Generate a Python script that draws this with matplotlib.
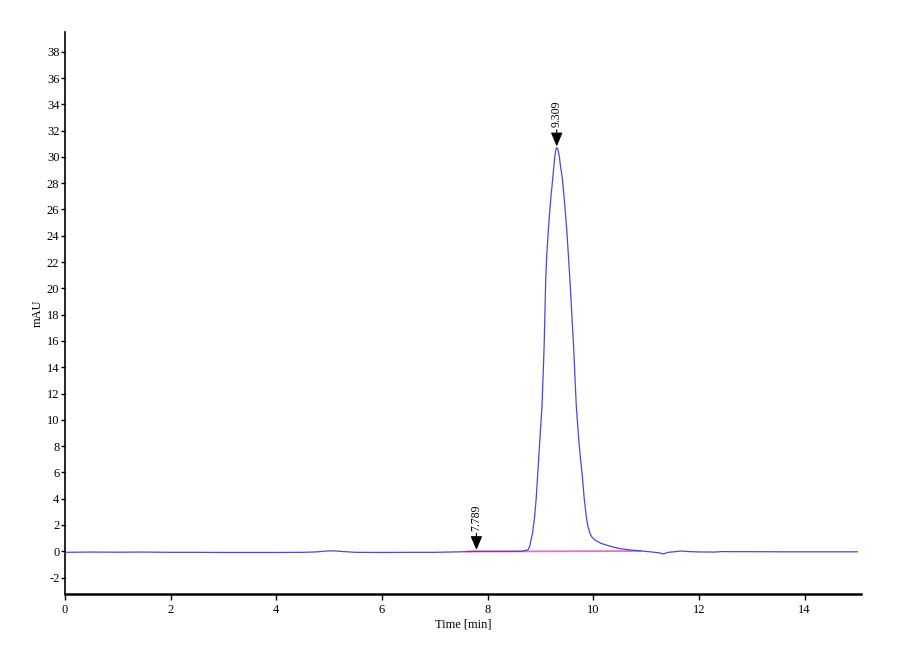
import numpy as np
import matplotlib
matplotlib.use('Agg')
import matplotlib.pyplot as plt

plt.rcParams['font.family'] = ['Liberation Serif', 'DejaVu Serif']
plt.rcParams['axes.unicode_minus'] = False

# chromatogram trace (min, mAU)
time_min = [0.0, 0.5, 1.0, 1.5, 2.0, 2.5, 3.0, 3.5, 4.0, 4.5, 4.75, 4.95, 5.1, 5.3,
            5.5, 6.0, 6.5, 7.0, 7.5, 7.8, 8.0, 8.4, 8.65, 8.74, 8.77, 8.80, 8.82,
            8.85, 8.89, 8.92, 8.95, 8.99, 9.03, 9.05, 9.07, 9.085, 9.10, 9.12,
            9.15, 9.17, 9.19, 9.21, 9.23, 9.25, 9.27, 9.29, 9.309, 9.33, 9.36,
            9.38, 9.40, 9.42, 9.44, 9.46, 9.48, 9.50, 9.53, 9.56, 9.595, 9.63,
            9.655, 9.68, 9.73, 9.76, 9.79, 9.83, 9.87, 9.90, 9.94, 9.98, 10.04,
            10.15, 10.26, 10.40, 10.51, 10.7, 10.9, 11.1, 11.25, 11.33, 11.42,
            11.55, 11.65, 11.8, 12.0, 12.3, 12.45, 12.6, 13.0, 13.5, 14.0, 14.5,
            15.0]
signal_mau = [-0.08, -0.06, -0.07, -0.06, -0.08, -0.08, -0.09, -0.09, -0.09, -0.08,
              -0.05, 0.02, 0.03, -0.03, -0.08, -0.09, -0.08, -0.08, -0.04, 0.0,
              -0.01, -0.01, 0.0, 0.08, 0.15, 0.4, 0.8, 1.35, 2.6, 4.0, 5.9, 8.5,
              11.0, 13.2, 15.5, 18.0, 20.6, 22.5, 24.4, 25.5, 26.5, 27.4, 28.2,
              29.1, 29.9, 30.5, 30.7, 30.6, 30.0, 29.3, 28.8, 28.2, 27.3, 26.4,
              25.4, 24.4, 22.5, 20.6, 18.0, 15.5, 13.2, 11.0, 8.3, 7.0, 5.9, 4.0,
              2.6, 1.9, 1.35, 1.05, 0.84, 0.6, 0.46, 0.3, 0.2, 0.1, 0.03, -0.05,
              -0.12, -0.2, -0.08, -0.03, 0.02, -0.02, -0.05, -0.06, -0.02, -0.03,
              -0.03, -0.04, -0.04, -0.04, -0.04]

# integration baseline
base_time = [7.6, 10.9]
base_mau = [-0.02, 0.02]

# peak labels
peak_times = [7.789, 9.309]
peak_labels = ['7.789', '9.309']

fig = plt.figure(figsize=(9, 6.6), dpi=100)
ax = fig.add_axes([0.0722, 0.1, 0.8845, 0.8515])

ax.plot(base_time, base_mau, color='#f26bcc', lw=1.3, zorder=2)
ax.plot(time_min, signal_mau, color='#4848dc', lw=0.9, zorder=3)

peak_h = np.interp(peak_times, time_min, signal_mau)
for t, h, lab in zip(peak_times, peak_h, peak_labels):
    ax.annotate(lab, xy=(t, h + 0.1), xytext=(0, 14), textcoords='offset points',
                rotation=90, ha='center', va='bottom', fontsize=8.5,
                arrowprops=dict(arrowstyle='-|>,head_length=0.85,head_width=0.36',
                                color='black', lw=0.8, shrinkA=0, shrinkB=0,
                                mutation_scale=10), zorder=4)

ax.set_xlim(0, 15.07)
ax.set_ylim(-3.25, 39.5)
ax.set_xticks(np.arange(0, 15, 2))
ax.set_yticks(np.arange(-2, 39, 2))
ax.set_xlabel('Time [min]', fontsize=9, labelpad=2)
ax.set_ylabel('mAU', fontsize=9, labelpad=2)

for s in ['top', 'right']:
    ax.spines[s].set_visible(False)
ax.spines['left'].set_linewidth(1.2)
ax.spines['bottom'].set_linewidth(1.8)
ax.tick_params(axis='y', length=3, width=1, pad=1, labelsize=9)
ax.tick_params(axis='x', length=4, width=1, pad=3, labelsize=9)

fig.savefig('out.png', dpi=100)
